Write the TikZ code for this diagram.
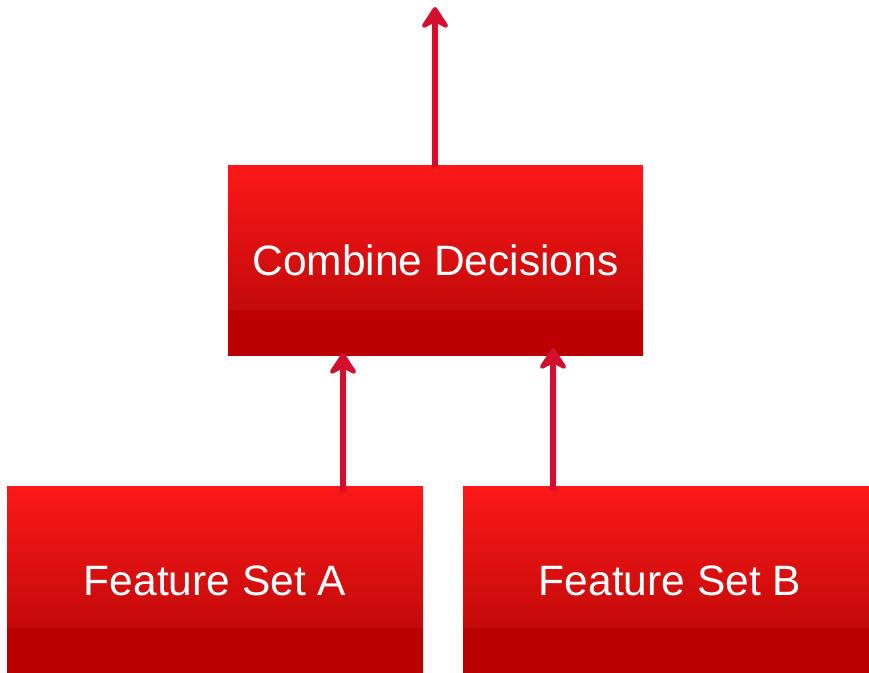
\documentclass[tikz,border=0pt]{standalone}
\usepackage{fontspec}
\setmainfont{Liberation Sans}
\usetikzlibrary{arrows.meta}

\definecolor{boxtop}{RGB}{253,24,24}
\definecolor{boxmid}{RGB}{196,10,10}
\definecolor{boxlow}{RGB}{186,0,0}
\definecolor{arrowred}{RGB}{210,16,46}

% red gradient that turns into a flat dark band near the bottom
\pgfdeclareverticalshading{redbox}{100bp}{%
  color(0bp)=(boxlow); color(36.6bp)=(boxlow);
  color(37.4bp)=(boxmid); color(75bp)=(boxtop); color(100bp)=(boxtop)}

\tikzset{
  x=1pt, y=-1pt,
  redblock/.style={shading=redbox, draw=none},
  blocklabel/.style={text=white, font=\fontsize{42.5}{48}\selectfont},
  flow/.style={draw=arrowred, line width=6pt,
    -{Stealth[length=26pt, width=34pt, inset=9pt, round]}},
  flowshadow/.style={draw=black, opacity=0.05, line width=9pt}
}

\begin{document}
\begin{tikzpicture}
  \useasboundingbox (0,0) rectangle (869,672);

  % blocks
  \shade[redblock] (228,165) rectangle (643,355);
  \shade[redblock] (7,486) rectangle (423,672);
  \shade[redblock] (463,486) rectangle (869,672);

  \node[blocklabel] (comb) at (435.5,260) {Combine Decisions};
  \node[blocklabel] (fa) at (215,581) {Feature Set A};
  \node[blocklabel] (fb) at (670,581) {Feature Set B};

  % connector end points on the block edges
  \coordinate (aout) at (343,491);
  \coordinate (ain)  at (343,353);
  \coordinate (bout) at (553,490);
  \coordinate (bin)  at (553,348);
  \coordinate (cout) at (435,167);
  \coordinate (top)  at (435,7);

  % faint shadows under the connectors
  \draw[flowshadow] ([yshift=-2pt]aout) -- ([yshift=-2pt]ain);
  \draw[flowshadow] ([yshift=-2pt]bout) -- ([yshift=-2pt]bin);
  \draw[flowshadow] ([yshift=-2pt]cout) -- ([yshift=-2pt]top);

  % connectors
  \draw[flow] (aout) -- (ain);
  \draw[flow] (bout) -- (bin);
  \draw[flow] (cout) -- (top);
\end{tikzpicture}
\end{document}
